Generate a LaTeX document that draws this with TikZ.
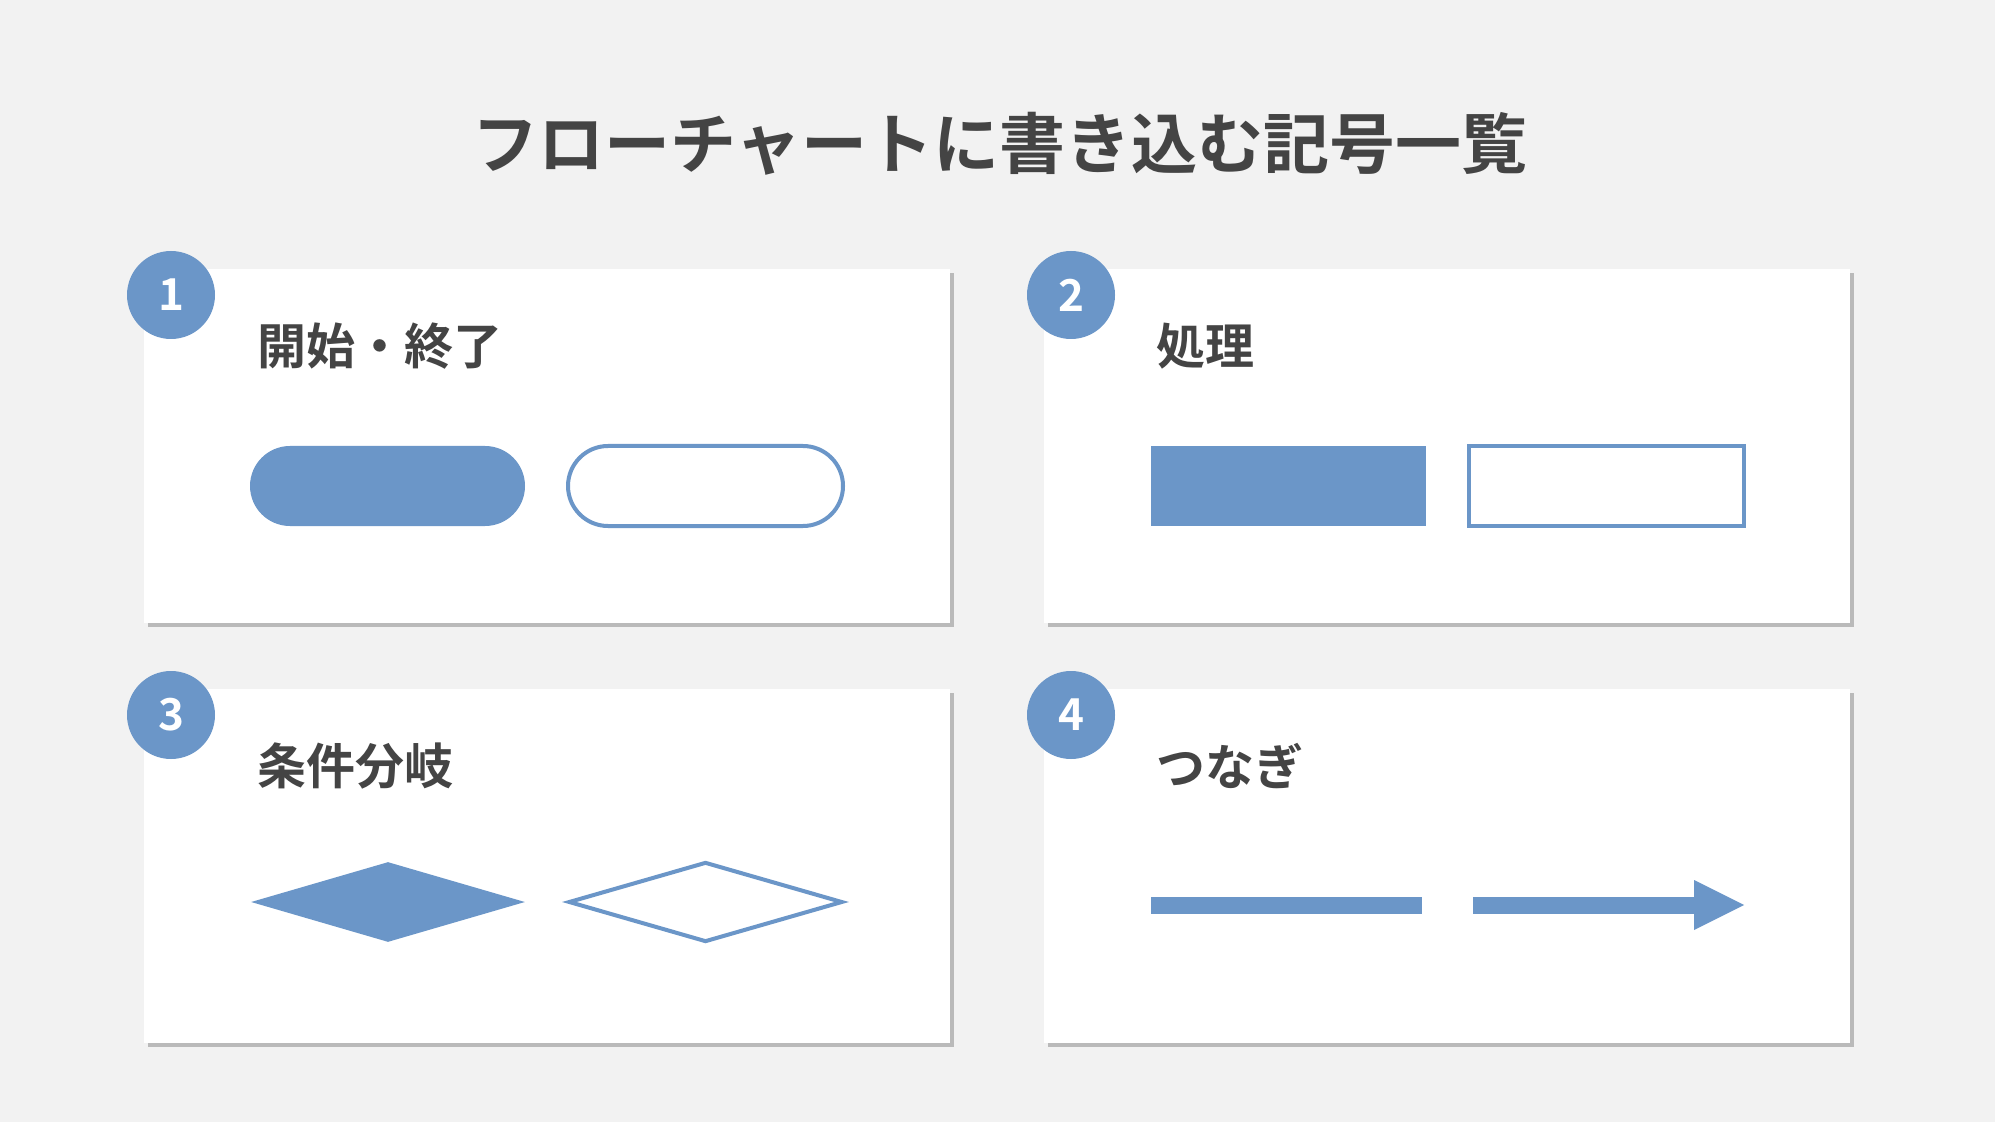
\documentclass[tikz,border=0pt]{standalone}
\usepackage{fontspec}
\setmainfont{Noto Sans CJK JP}[BoldFont={Noto Sans CJK JP Bold}]
\usetikzlibrary{shapes.geometric,shapes.misc,shadows,arrows.meta}
\definecolor{symblue}{RGB}{107,150,200}
\definecolor{inkgray}{RGB}{68,68,68}
\definecolor{bggray}{RGB}{242,242,242}

\begin{document}
\begin{tikzpicture}[x=0.5pt,y=-0.5pt]
	\tikzstyle{panel}=[rectangle,fill=white,inner sep=0pt,minimum width=403pt,minimum height=177pt,drop shadow={shadow xshift=1.8pt,shadow yshift=-2pt,fill=black!45,opacity=0.55}]
	\tikzstyle{badge}=[circle,fill=symblue,text=white,inner sep=0pt,minimum size=44pt,font=\bfseries\fontsize{22pt}{22pt}\selectfont]
	\tikzstyle{heading}=[anchor=west,inner sep=0pt,text=inkgray,font=\bfseries\fontsize{24.5pt}{24.5pt}\selectfont]
	\tikzstyle{pill}=[rounded rectangle,inner sep=0pt,minimum width=137.5pt,minimum height=40pt]
	\tikzstyle{box}=[rectangle,inner sep=0pt,minimum width=137.5pt,minimum height=40pt]
	\tikzstyle{rhomb}=[diamond,inner sep=0pt,minimum width=137pt,minimum height=40pt]
	\tikzstyle{solid}=[fill=symblue]
	\tikzstyle{hollow}=[draw=symblue,line width=2pt,fill=white]
	\tikzstyle{conn}=[draw=symblue,line width=8.5pt]

	% background
	\fill[bggray] (0,0) rectangle (1995,1122);
	\node[text=inkgray,font=\bfseries\fontsize{33pt}{33pt}\selectfont] (ttl) at (1000,144) {フローチャートに書き込む記号一覧};

	% panels
	\node[panel] (p1) at (547,446) {};
	\node[panel] (p2) at (1447,446) {};
	\node[panel] (p3) at (547,866) {};
	\node[panel] (p4) at (1447,866) {};

	\node[badge] (b1) at (171,295) {1};
	\node[badge] (b2) at (1071,295) {2};
	\node[badge] (b3) at (171,715) {3};
	\node[badge] (b4) at (1071,715) {4};

	\node[heading] (h1) at (257,346) {開始・終了};
	\node[heading] (h2) at (1156,346) {処理};
	\node[heading] (h3) at (257,766) {条件分岐};
	\node[heading] (h4) at (1156,766) {つなぎ};

	% symbols
	\node[pill,solid] (s1a) at (387.5,486) {};
	\node[pill,hollow] (s1b) at (705.5,486) {};
	\node[box,solid] (s2a) at (1288.5,486) {};
	\node[box,hollow] (s2b) at (1606,486) {};
	\node[rhomb,solid] (s3a) at (388,902) {};
	\node[rhomb,hollow] (s3b) at (705.5,902) {};

	\coordinate (l4a) at (1151,905);
	\coordinate (l4b) at (1422,905);
	\coordinate (a4a) at (1473,905);
	\coordinate (a4b) at (1744,905);
	\path[conn] (l4a) -- (l4b);
	\path[conn,-{Triangle[length=25pt,width=25pt,line width=0pt]}] (a4a) -- (a4b);
\end{tikzpicture}
\end{document}
